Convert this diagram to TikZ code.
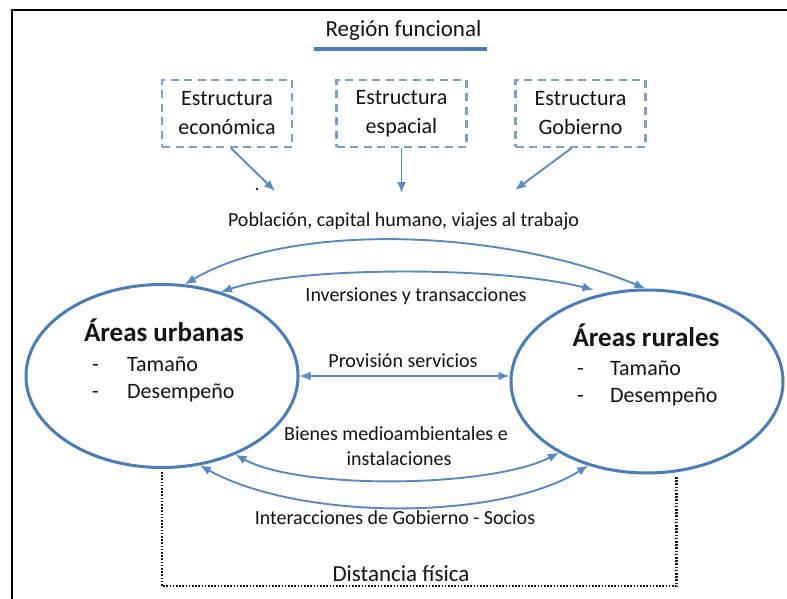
\documentclass[tikz,border=0pt]{standalone}
\usepackage{fontspec}
\setmainfont{Carlito}
\usetikzlibrary{shapes.geometric,arrows.meta}
\definecolor{ellblue}{HTML}{4A7EBB}
\definecolor{arrblue}{HTML}{5A8AC6}
\definecolor{boxblue}{HTML}{7F9FC8}
\definecolor{txt}{HTML}{141414}
\begin{document}
\begin{tikzpicture}[x=1pt,y=-1pt,
  sbox/.style={draw=boxblue,line width=2.2pt,dash pattern=on 8pt off 5.5pt,minimum width=130pt,minimum height=67pt,inner sep=0pt,align=center,font=\fontsize{22}{29}\selectfont,text=txt},
  area/.style={ellipse,draw=ellblue,line width=3pt,minimum width=272pt,minimum height=183pt,inner sep=0pt},
  lab/.style={font=\fontsize{20}{26}\selectfont,text=txt,inner sep=0pt,anchor=base},
  ttl/.style={font=\fontsize{27}{30}\selectfont\bfseries,text=txt,inner sep=0pt,anchor=base},
  itm/.style={font=\fontsize{22}{28}\selectfont,text=txt,inner sep=0pt,anchor=base west},
  link/.style={draw=arrblue,line width=1.9pt},
  tip/.style={-{Latex[length=11pt,width=9pt]}},
  both/.style={{Latex[length=11pt,width=9pt]}-{Latex[length=11pt,width=9pt]}},
  dots/.style={draw=black!90,line width=2.4pt,dash pattern=on 1.6pt off 1.6pt}
]
\fill[white] (0,0) rectangle (787,599);
\useasboundingbox (0,0) rectangle (787,599);
% frame
\draw[black,line width=2.2pt] (12,599) -- (12,10) -- (787,10);
% title
\node[font=\fontsize{23}{28}\selectfont,text=txt,inner sep=0pt,anchor=base] (title) at (403.5,37) {Región funcional};
\coordinate (ul1) at (314,49);
\coordinate (ul2) at (487,49);
\draw[ellblue,line width=3.8pt] (ul1) -- (ul2);
% boxes
\node[sbox] (b1) at (227,113.5) {Estructura\\económica};
\node[sbox] (b2) at (401.5,113.5) {Estructura\\espacial};
\node[sbox] (b3) at (580.5,113.5) {Estructura\\Gobierno};
\coordinate (e1) at (275,191);
\coordinate (e2) at (401.5,193);
\coordinate (e3) at (515,190);
\draw[link,tip] ([xshift=4pt]b1.south) -- (e1);
\draw[link,tip] (b2.south) -- (e2);
\draw[link,tip] ([xshift=-9pt]b3.south) -- (e3);
\fill[txt] (257,189) circle (1.3pt);
% ellipses
\node[area] (urb) at (162,376) {};
\node[area] (rur) at (647,381.5) {};
\node[ttl] (hu) at (164,341.7) {Áreas urbanas};
\node[itm] (ut) at (92,371.7) {\makebox[35pt][l]{-}Tamaño};
\node[itm] (ud) at (92,398) {\makebox[35pt][l]{-}Desempeño};
\node[ttl] (hr) at (646,346.7) {Áreas rurales};
\node[itm] (rt) at (577,375) {\makebox[33pt][l]{-}Tamaño};
\node[itm] (rd) at (577,402.5) {\makebox[33pt][l]{-}Desempeño};
% labels
\node[lab] (lpob) at (403.5,226.7) {Población, capital humano, viajes al trabajo};
\node[lab] (linv) at (416,301.7) {Inversiones y transacciones};
\node[lab] (lpro) at (403,367) {Provisión servicios};
\node[lab] (lbie) at (396,440) {Bienes medioambientales e};
\node[lab] (lins) at (399,465) {instalaciones};
\node[lab] (lint) at (395,524) {Interacciones de Gobierno - Socios};
\node[font=\fontsize{23}{28}\selectfont,text=txt,inner sep=0pt,anchor=base] (ldis) at (401,581.7) {Distancia física};
% connectors
\draw[link,both] (urb.76) .. controls (290,222) and (500,228) .. (rur.91);
\draw[link,both] (urb.55) .. controls (300,266) and (500,266) .. ([yshift=6pt]rur.122);
\draw[link,both] (urb.east) -- (urb.east -| rur.west);
\draw[link,both] (urb.-47.6) .. controls (300,490) and (490,488) .. (rur.219.6);
\draw[link,both] (urb.-67) .. controls (300,521) and (500,521) .. (rur.235.4);
% physical distance
\coordinate (dl) at (161,586);
\draw[dots,shorten <=3pt] (urb.south) -- (urb.south |- dl) -| ([yshift=-3pt]rur.-72);
\end{tikzpicture}
\end{document}
